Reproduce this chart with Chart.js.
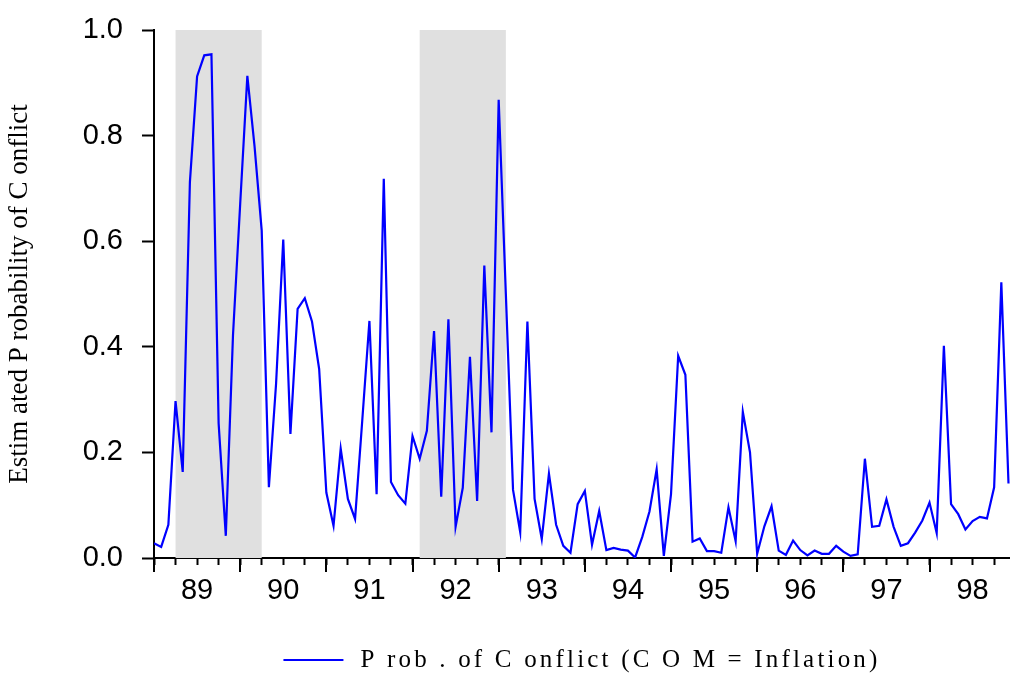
<!DOCTYPE html>
<html><head><meta charset="utf-8">
<script src="https://cdn.jsdelivr.net/npm/chart.js@4"></script>
<style>html,body{margin:0;padding:0;background:#fff}</style>
</head><body>
<canvas id="c" width="1010" height="673"></canvas>
<script>
// ---- data ----
const startYear = 1989;           // monthly series, Jan 1989 - Dec 1998
const yearLabels = ['89','90','91','92','93','94','95','96','97','98'];
const probConflict = [
  0.028,0.021,0.063,0.297,0.163,0.712,0.912,0.952,0.954,0.255,0.042,0.422,
  0.670,0.913,0.780,0.620,0.134,0.330,0.603,0.235,0.472,0.492,0.448,0.358,
  0.124,0.061,0.207,0.112,0.074,0.260,0.449,0.121,0.718,0.144,0.119,0.103,
  0.231,0.188,0.241,0.430,0.116,0.452,0.059,0.133,0.381,0.108,0.554,0.238,
  0.868,0.500,0.129,0.049,0.448,0.112,0.036,0.160,0.063,0.023,0.010,0.102,
  0.127,0.025,0.089,0.015,0.019,0.016,0.014,0.001,0.040,0.088,0.168,0.004,
  0.121,0.383,0.347,0.031,0.037,0.013,0.013,0.010,0.096,0.032,0.277,0.200,
  0.008,0.060,0.098,0.014,0.006,0.033,0.015,0.005,0.014,0.008,0.008,0.023,
  0.012,0.004,0.007,0.188,0.059,0.061,0.111,0.059,0.023,0.028,0.048,0.071,
  0.105,0.047,0.402,0.102,0.083,0.054,0.070,0.078,0.075,0.134,0.522,0.141
];
const shadeStart = [1989.25, 1992.0833];
const shadeEnd   = [1990.25, 1993.0833];
const yTickValues = [0, 0.2, 0.4, 0.6, 0.8, 1.0];
const seriesLabel = 'P rob . of C onflict (C O M = Inflation)';
const yTitle = 'Estim ated P robability of C onflict';

const points = probConflict.map((v, i) => ({x: startYear + i / 12, y: v}));

const shadePlugin = {
  id: 'shade',
  beforeDatasetsDraw(chart) {
    const {ctx, chartArea, scales: {x}} = chart;
    ctx.save();
    ctx.fillStyle = '#e0e0e0';
    shadeStart.forEach((s, k) => {
      const x0 = x.getPixelForValue(s), x1 = x.getPixelForValue(shadeEnd[k]);
      ctx.fillRect(x0, chartArea.top, x1 - x0, chartArea.bottom - chartArea.top);
    });
    ctx.restore();
  }
};

const yearTickPlugin = {
  id: 'yearTicks',
  afterDraw(chart) {
    const {ctx, chartArea, scales: {x}} = chart;
    ctx.save();
    ctx.strokeStyle = '#000';
    ctx.lineWidth = 2;
    yearLabels.forEach((lab, k) => {
      const px = Math.round(x.getPixelForValue(startYear + k));
      ctx.beginPath();
      ctx.moveTo(px, chartArea.bottom);
      ctx.lineTo(px, chartArea.bottom + 14);
      ctx.stroke();
    });
    ctx.restore();
  }
};

const legendPlugin = {
  id: 'customLegend',
  afterDraw(chart) {
    const {ctx, chartArea} = chart;
    const ds = chart.data.datasets[0];
    ctx.save();
    ctx.font = '25px "Liberation Serif"';
    const targetW = 520;
    const raw = ctx.measureText(ds.label).width;
    const ls = Math.max(0, (targetW - raw) / ds.label.length);
    ctx.letterSpacing = ls.toFixed(2) + 'px';
    const tw = ctx.measureText(ds.label).width;
    const total = 60 + 17 + tw;
    const cx = (chartArea.left + chartArea.right) / 2;
    const x0 = cx - total / 2;
    const y = 660;
    ctx.strokeStyle = ds.borderColor;
    ctx.lineWidth = 2;
    ctx.beginPath(); ctx.moveTo(x0, y); ctx.lineTo(x0 + 60, y); ctx.stroke();
    ctx.fillStyle = '#000';
    ctx.textBaseline = 'middle';
    ctx.textAlign = 'left';
    ctx.fillText(ds.label, x0 + 77, y);
    ctx.restore();
  }
};

new Chart(document.getElementById('c'), {
  type: 'line',
  data: {
    datasets: [{
      label: seriesLabel,
      data: points,
      borderColor: '#0000ff',
      borderWidth: 2.2,
      pointRadius: 0,
      tension: 0,
      fill: false
    }]
  },
  options: {
    responsive: false,
    animation: false,
    devicePixelRatio: 1,
    layout: {padding: {top: 30, right: 0, bottom: 0, left: 0}},
    plugins: {legend: {display: false}, tooltip: {enabled: false}},
    scales: {
      x: {
        type: 'linear',
        min: startYear,
        max: 1998.934,
        afterBuildTicks(s) {
          const t = [];
          for (let k = 0; k < yearLabels.length * 4; k++) t.push({value: startYear + k / 4});
          s.ticks = t;
        },
        ticks: {
          autoSkip: false, maxRotation: 0, minRotation: 0,
          color: '#000', padding: 9,
          font: {family: '"Liberation Sans", Arial', size: 29},
          callback(v) {
            const f = v - Math.floor(v);
            if (Math.abs(f - 0.5) < 1e-6) return yearLabels[Math.floor(v) - startYear];
            return '';
          }
        },
        grid: {drawOnChartArea: false, drawTicks: true, tickLength: 7, tickColor: '#000', tickWidth: 2},
        border: {color: '#000', width: 2},
        afterFit(s) { s.height = 115; s.paddingLeft = 0; s.paddingRight = 0; }
      },
      y: {
        min: 0, max: 1,
        afterBuildTicks(s) { s.ticks = yTickValues.map(v => ({value: v})); },
        ticks: {
          color: '#000', padding: 19,
          font: {family: '"Liberation Sans", Arial', size: 29},
          callback(v) { return Number(v).toFixed(1); }
        },
        grid: {drawOnChartArea: false, drawTicks: true, tickLength: 12, tickColor: '#000', tickWidth: 2},
        border: {color: '#000', width: 2},
        title: {
          display: true, text: yTitle, color: '#000',
          font: {family: '"Liberation Serif", serif', size: 27},
          padding: {top: 4, bottom: 0}
        },
        afterFit(s) { s.width = 154; s.paddingTop = 0; s.paddingBottom = 0; }
      }
    }
  },
  plugins: [shadePlugin, yearTickPlugin, legendPlugin]
});
</script>
</body></html>
